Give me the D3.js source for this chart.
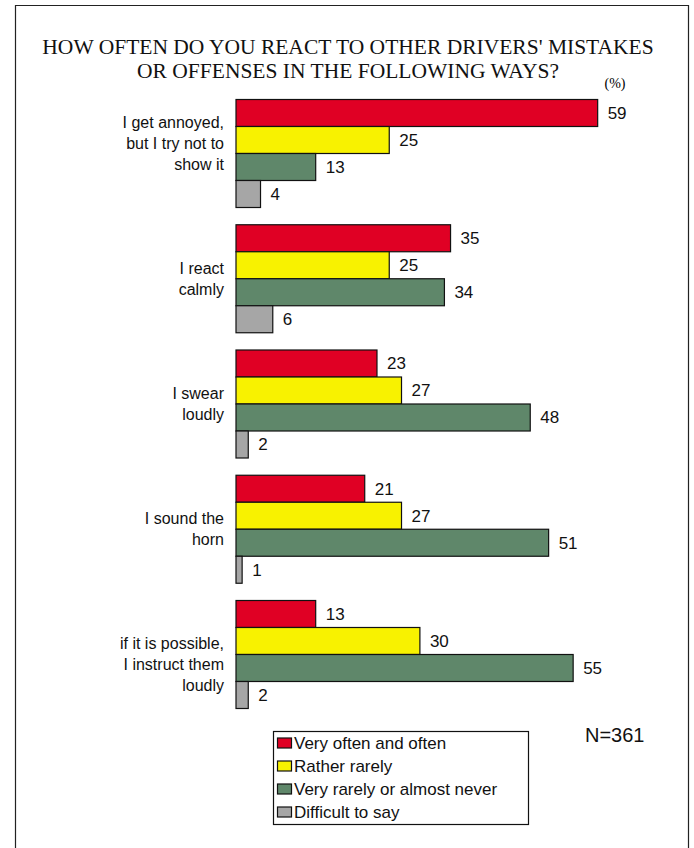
<!DOCTYPE html>
<html><head><meta charset="utf-8">
<script src="https://cdn.jsdelivr.net/npm/d3@7/dist/d3.min.js"></script>
<style>body{margin:0;background:#fff}</style>
</head><body><svg id="c" width="694" height="848"></svg>
<script>
const categories = [
  ["I get annoyed,", "but I try not to", "show it", ""],
  ["I react", "calmly"],
  ["I swear", "loudly"],
  ["I sound the", "horn"],
  ["", "if it is possible,", "I instruct them", "loudly"]
];
const seriesNames = ["Very often and often", "Rather rarely", "Very rarely or almost never", "Difficult to say"];
const veryOften = [59, 35, 23, 21, 13];
const ratherRarely = [25, 25, 27, 27, 30];
const veryRarely = [13, 34, 48, 51, 55];
const difficult = [4, 6, 2, 1, 2];
const colors = ["#e00024", "#f8f200", "#5f876a", "#a6a6a6"];

const series = [veryOften, ratherRarely, veryRarely, difficult];
const svg = d3.select("#c");
const sans = "Liberation Sans, Arial, sans-serif";
const serif = "Liberation Serif, Times New Roman, serif";

// frame
svg.append("path").attr("d", "M15.5,860 V5.5 H688.5 V860").attr("fill", "none").attr("stroke", "#222").attr("stroke-width", 1.2);

// title
const title = svg.append("text").attr("text-anchor", "middle")
  .attr("font-family", serif).attr("font-size", 21.5).attr("fill", "#111");
title.append("tspan").attr("x", 348).attr("y", 54).text("HOW OFTEN DO YOU REACT TO OTHER DRIVERS' MISTAKES");
title.append("tspan").attr("x", 348).attr("y", 78).text("OR OFFENSES IN THE FOLLOWING WAYS?");
svg.append("text").attr("x", 615).attr("y", 88).attr("text-anchor", "middle")
  .attr("font-family", serif).attr("font-size", 14).text("(%)");

const x = d3.scaleLinear().domain([0, 100]).range([236, 849]);
const groupY = d3.scaleBand().domain(d3.range(categories.length)).range([99.5, 708.5]).paddingInner(0.1377).paddingOuter(0);
const barY = d3.scaleBand().domain(d3.range(series.length)).range([0, groupY.bandwidth()]);

const g = svg.selectAll("g.grp").data(categories).join("g").attr("class", "grp")
  .attr("transform", (d, i) => `translate(0,${groupY(i)})`);

g.each(function(cat, i) {
  const gg = d3.select(this);
  series.forEach((s, j) => {
    gg.append("rect").attr("x", x(0)).attr("y", barY(j)).attr("width", x(s[i]) - x(0)).attr("height", barY.bandwidth())
      .attr("fill", colors[j]).attr("stroke", "#111").attr("stroke-width", 1.2);
    gg.append("text").attr("x", x(s[i]) + 10).attr("y", barY(j) + barY.bandwidth() / 2 + 6)
      .attr("font-family", sans).attr("font-size", 17).attr("fill", "#111").text(s[i]);
  });
  const mid = groupY.bandwidth() / 2;
  const lh = 21;
  const t = gg.append("text").attr("text-anchor", "end")
    .attr("font-family", sans).attr("font-size", 16).attr("fill", "#111");
  cat.forEach((line, k) => {
    t.append("tspan").attr("x", 224).attr("y", mid + (k - (cat.length - 1) / 2) * lh + 5.5).text(line);
  });
});

// N
svg.append("text").attr("x", 585).attr("y", 742).attr("font-family", sans)
  .attr("font-size", 20).attr("fill", "#111").text("N=361");

// legend
svg.append("rect").attr("x", 273.5).attr("y", 731.5).attr("width", 255).attr("height", 93)
  .attr("fill", "#fff").attr("stroke", "#111").attr("stroke-width", 1.2);
const lg = svg.selectAll("g.leg").data(seriesNames).join("g").attr("class", "leg")
  .attr("transform", (d, i) => `translate(277,${743 + i * 23})`);
lg.append("rect").attr("x", 0.5).attr("y", -5).attr("width", 14).attr("height", 10)
  .attr("fill", (d, i) => colors[i]).attr("stroke", "#111").attr("stroke-width", 1.2);
lg.append("text").attr("x", 17).attr("y", 6).attr("font-family", sans)
  .attr("font-size", 17).attr("fill", "#111").text(d => d);
</script></body></html>
